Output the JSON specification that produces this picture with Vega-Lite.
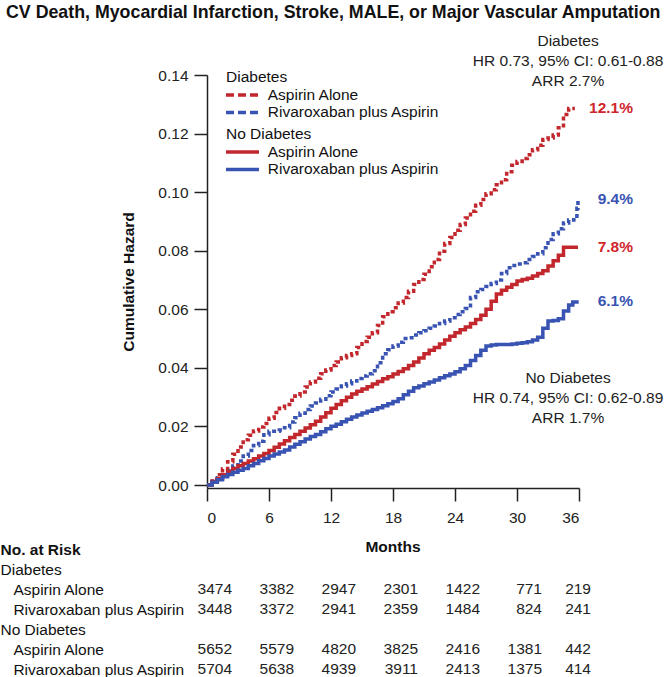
{
  "$schema": "https://vega.github.io/schema/vega-lite/v6.json",
  "padding": {"left": 0, "top": 4, "right": 0, "bottom": 0},
  "title": {"text": "CV Death, Myocardial Infarction, Stroke, MALE, or Major Vascular Amputation", "anchor": "start", "fontSize": 17.8, "fontWeight": "bold", "font": "Liberation Sans", "color": "#111", "dx": 6, "offset": 12},
  "config": {"view": {"stroke": null}, "font": "Liberation Sans", "text": {"font": "Liberation Sans"}},
  "spacing": 13,
  "datasets": {
    "curves": [
      {"group":"Diabetes","arm":"Aspirin Alone","month":0,"hazard":0},
      {"group":"Diabetes","arm":"Aspirin Alone","month":0.5,"hazard":0.002},
      {"group":"Diabetes","arm":"Aspirin Alone","month":1,"hazard":0.0035},
      {"group":"Diabetes","arm":"Aspirin Alone","month":1.5,"hazard":0.0055},
      {"group":"Diabetes","arm":"Aspirin Alone","month":2,"hazard":0.008},
      {"group":"Diabetes","arm":"Aspirin Alone","month":2.5,"hazard":0.0105},
      {"group":"Diabetes","arm":"Aspirin Alone","month":3,"hazard":0.013},
      {"group":"Diabetes","arm":"Aspirin Alone","month":3.5,"hazard":0.0155},
      {"group":"Diabetes","arm":"Aspirin Alone","month":4,"hazard":0.017},
      {"group":"Diabetes","arm":"Aspirin Alone","month":4.5,"hazard":0.0185},
      {"group":"Diabetes","arm":"Aspirin Alone","month":5,"hazard":0.0198},
      {"group":"Diabetes","arm":"Aspirin Alone","month":5.5,"hazard":0.021},
      {"group":"Diabetes","arm":"Aspirin Alone","month":6,"hazard":0.0228},
      {"group":"Diabetes","arm":"Aspirin Alone","month":6.5,"hazard":0.0248},
      {"group":"Diabetes","arm":"Aspirin Alone","month":7,"hazard":0.0262},
      {"group":"Diabetes","arm":"Aspirin Alone","month":7.5,"hazard":0.0275},
      {"group":"Diabetes","arm":"Aspirin Alone","month":8,"hazard":0.029},
      {"group":"Diabetes","arm":"Aspirin Alone","month":8.5,"hazard":0.0304},
      {"group":"Diabetes","arm":"Aspirin Alone","month":9,"hazard":0.0318},
      {"group":"Diabetes","arm":"Aspirin Alone","month":9.5,"hazard":0.0335},
      {"group":"Diabetes","arm":"Aspirin Alone","month":10,"hazard":0.0352},
      {"group":"Diabetes","arm":"Aspirin Alone","month":10.5,"hazard":0.0365},
      {"group":"Diabetes","arm":"Aspirin Alone","month":11,"hazard":0.038},
      {"group":"Diabetes","arm":"Aspirin Alone","month":11.5,"hazard":0.0393},
      {"group":"Diabetes","arm":"Aspirin Alone","month":12,"hazard":0.0408},
      {"group":"Diabetes","arm":"Aspirin Alone","month":12.5,"hazard":0.042},
      {"group":"Diabetes","arm":"Aspirin Alone","month":13,"hazard":0.0435},
      {"group":"Diabetes","arm":"Aspirin Alone","month":13.5,"hazard":0.0442},
      {"group":"Diabetes","arm":"Aspirin Alone","month":14,"hazard":0.0448},
      {"group":"Diabetes","arm":"Aspirin Alone","month":14.5,"hazard":0.047},
      {"group":"Diabetes","arm":"Aspirin Alone","month":15,"hazard":0.049},
      {"group":"Diabetes","arm":"Aspirin Alone","month":15.5,"hazard":0.0505},
      {"group":"Diabetes","arm":"Aspirin Alone","month":16,"hazard":0.052},
      {"group":"Diabetes","arm":"Aspirin Alone","month":16.5,"hazard":0.0545},
      {"group":"Diabetes","arm":"Aspirin Alone","month":17,"hazard":0.0575},
      {"group":"Diabetes","arm":"Aspirin Alone","month":17.5,"hazard":0.0592},
      {"group":"Diabetes","arm":"Aspirin Alone","month":18,"hazard":0.0605},
      {"group":"Diabetes","arm":"Aspirin Alone","month":18.5,"hazard":0.0622},
      {"group":"Diabetes","arm":"Aspirin Alone","month":19,"hazard":0.064},
      {"group":"Diabetes","arm":"Aspirin Alone","month":19.5,"hazard":0.0662},
      {"group":"Diabetes","arm":"Aspirin Alone","month":20,"hazard":0.0685},
      {"group":"Diabetes","arm":"Aspirin Alone","month":20.5,"hazard":0.0702},
      {"group":"Diabetes","arm":"Aspirin Alone","month":21,"hazard":0.072},
      {"group":"Diabetes","arm":"Aspirin Alone","month":21.5,"hazard":0.0745},
      {"group":"Diabetes","arm":"Aspirin Alone","month":22,"hazard":0.077},
      {"group":"Diabetes","arm":"Aspirin Alone","month":22.5,"hazard":0.0798},
      {"group":"Diabetes","arm":"Aspirin Alone","month":23,"hazard":0.0825},
      {"group":"Diabetes","arm":"Aspirin Alone","month":23.5,"hazard":0.0845},
      {"group":"Diabetes","arm":"Aspirin Alone","month":24,"hazard":0.087},
      {"group":"Diabetes","arm":"Aspirin Alone","month":24.5,"hazard":0.089},
      {"group":"Diabetes","arm":"Aspirin Alone","month":25,"hazard":0.0912},
      {"group":"Diabetes","arm":"Aspirin Alone","month":25.5,"hazard":0.0935},
      {"group":"Diabetes","arm":"Aspirin Alone","month":26,"hazard":0.0955},
      {"group":"Diabetes","arm":"Aspirin Alone","month":26.5,"hazard":0.0975},
      {"group":"Diabetes","arm":"Aspirin Alone","month":27,"hazard":0.0995},
      {"group":"Diabetes","arm":"Aspirin Alone","month":27.5,"hazard":0.1008},
      {"group":"Diabetes","arm":"Aspirin Alone","month":28,"hazard":0.1025},
      {"group":"Diabetes","arm":"Aspirin Alone","month":28.5,"hazard":0.1042},
      {"group":"Diabetes","arm":"Aspirin Alone","month":29,"hazard":0.107},
      {"group":"Diabetes","arm":"Aspirin Alone","month":29.5,"hazard":0.1092},
      {"group":"Diabetes","arm":"Aspirin Alone","month":30,"hazard":0.1105},
      {"group":"Diabetes","arm":"Aspirin Alone","month":30.5,"hazard":0.1115},
      {"group":"Diabetes","arm":"Aspirin Alone","month":31,"hazard":0.1128},
      {"group":"Diabetes","arm":"Aspirin Alone","month":31.5,"hazard":0.1145},
      {"group":"Diabetes","arm":"Aspirin Alone","month":32,"hazard":0.116},
      {"group":"Diabetes","arm":"Aspirin Alone","month":32.5,"hazard":0.118},
      {"group":"Diabetes","arm":"Aspirin Alone","month":33,"hazard":0.1185},
      {"group":"Diabetes","arm":"Aspirin Alone","month":33.5,"hazard":0.1195},
      {"group":"Diabetes","arm":"Aspirin Alone","month":34,"hazard":0.122},
      {"group":"Diabetes","arm":"Aspirin Alone","month":34.5,"hazard":0.1265},
      {"group":"Diabetes","arm":"Aspirin Alone","month":35,"hazard":0.1286},
      {"group":"Diabetes","arm":"Aspirin Alone","month":35.6,"hazard":0.1286},
      {"group":"Diabetes","arm":"Rivaroxaban plus Aspirin","month":0,"hazard":0},
      {"group":"Diabetes","arm":"Rivaroxaban plus Aspirin","month":0.5,"hazard":0.0012},
      {"group":"Diabetes","arm":"Rivaroxaban plus Aspirin","month":1,"hazard":0.0025},
      {"group":"Diabetes","arm":"Rivaroxaban plus Aspirin","month":1.5,"hazard":0.0035},
      {"group":"Diabetes","arm":"Rivaroxaban plus Aspirin","month":2,"hazard":0.0048},
      {"group":"Diabetes","arm":"Rivaroxaban plus Aspirin","month":2.5,"hazard":0.0065},
      {"group":"Diabetes","arm":"Rivaroxaban plus Aspirin","month":3,"hazard":0.0082},
      {"group":"Diabetes","arm":"Rivaroxaban plus Aspirin","month":3.5,"hazard":0.0099},
      {"group":"Diabetes","arm":"Rivaroxaban plus Aspirin","month":4,"hazard":0.0118},
      {"group":"Diabetes","arm":"Rivaroxaban plus Aspirin","month":4.5,"hazard":0.0135},
      {"group":"Diabetes","arm":"Rivaroxaban plus Aspirin","month":5,"hazard":0.015},
      {"group":"Diabetes","arm":"Rivaroxaban plus Aspirin","month":5.5,"hazard":0.0172},
      {"group":"Diabetes","arm":"Rivaroxaban plus Aspirin","month":6,"hazard":0.0184},
      {"group":"Diabetes","arm":"Rivaroxaban plus Aspirin","month":7,"hazard":0.0188},
      {"group":"Diabetes","arm":"Rivaroxaban plus Aspirin","month":7.5,"hazard":0.0196},
      {"group":"Diabetes","arm":"Rivaroxaban plus Aspirin","month":8,"hazard":0.0215},
      {"group":"Diabetes","arm":"Rivaroxaban plus Aspirin","month":8.5,"hazard":0.023},
      {"group":"Diabetes","arm":"Rivaroxaban plus Aspirin","month":9,"hazard":0.0245},
      {"group":"Diabetes","arm":"Rivaroxaban plus Aspirin","month":9.5,"hazard":0.0258},
      {"group":"Diabetes","arm":"Rivaroxaban plus Aspirin","month":10,"hazard":0.027},
      {"group":"Diabetes","arm":"Rivaroxaban plus Aspirin","month":10.5,"hazard":0.028},
      {"group":"Diabetes","arm":"Rivaroxaban plus Aspirin","month":11,"hazard":0.0293},
      {"group":"Diabetes","arm":"Rivaroxaban plus Aspirin","month":11.5,"hazard":0.0305},
      {"group":"Diabetes","arm":"Rivaroxaban plus Aspirin","month":12,"hazard":0.0318},
      {"group":"Diabetes","arm":"Rivaroxaban plus Aspirin","month":12.5,"hazard":0.0328},
      {"group":"Diabetes","arm":"Rivaroxaban plus Aspirin","month":13,"hazard":0.0338},
      {"group":"Diabetes","arm":"Rivaroxaban plus Aspirin","month":13.5,"hazard":0.0346},
      {"group":"Diabetes","arm":"Rivaroxaban plus Aspirin","month":14,"hazard":0.0355},
      {"group":"Diabetes","arm":"Rivaroxaban plus Aspirin","month":14.5,"hazard":0.0364},
      {"group":"Diabetes","arm":"Rivaroxaban plus Aspirin","month":15,"hazard":0.0372},
      {"group":"Diabetes","arm":"Rivaroxaban plus Aspirin","month":15.5,"hazard":0.038},
      {"group":"Diabetes","arm":"Rivaroxaban plus Aspirin","month":16,"hazard":0.039},
      {"group":"Diabetes","arm":"Rivaroxaban plus Aspirin","month":16.5,"hazard":0.0418},
      {"group":"Diabetes","arm":"Rivaroxaban plus Aspirin","month":17,"hazard":0.0448},
      {"group":"Diabetes","arm":"Rivaroxaban plus Aspirin","month":17.5,"hazard":0.0462},
      {"group":"Diabetes","arm":"Rivaroxaban plus Aspirin","month":18,"hazard":0.0475},
      {"group":"Diabetes","arm":"Rivaroxaban plus Aspirin","month":18.5,"hazard":0.0488},
      {"group":"Diabetes","arm":"Rivaroxaban plus Aspirin","month":19,"hazard":0.05},
      {"group":"Diabetes","arm":"Rivaroxaban plus Aspirin","month":19.5,"hazard":0.0503},
      {"group":"Diabetes","arm":"Rivaroxaban plus Aspirin","month":20,"hazard":0.0512},
      {"group":"Diabetes","arm":"Rivaroxaban plus Aspirin","month":20.5,"hazard":0.052},
      {"group":"Diabetes","arm":"Rivaroxaban plus Aspirin","month":21,"hazard":0.0527},
      {"group":"Diabetes","arm":"Rivaroxaban plus Aspirin","month":21.5,"hazard":0.0535},
      {"group":"Diabetes","arm":"Rivaroxaban plus Aspirin","month":22,"hazard":0.0543},
      {"group":"Diabetes","arm":"Rivaroxaban plus Aspirin","month":22.5,"hazard":0.0552},
      {"group":"Diabetes","arm":"Rivaroxaban plus Aspirin","month":23,"hazard":0.056},
      {"group":"Diabetes","arm":"Rivaroxaban plus Aspirin","month":23.5,"hazard":0.0571},
      {"group":"Diabetes","arm":"Rivaroxaban plus Aspirin","month":24,"hazard":0.0582},
      {"group":"Diabetes","arm":"Rivaroxaban plus Aspirin","month":24.5,"hazard":0.0592},
      {"group":"Diabetes","arm":"Rivaroxaban plus Aspirin","month":25,"hazard":0.0603},
      {"group":"Diabetes","arm":"Rivaroxaban plus Aspirin","month":25.5,"hazard":0.064},
      {"group":"Diabetes","arm":"Rivaroxaban plus Aspirin","month":26,"hazard":0.066},
      {"group":"Diabetes","arm":"Rivaroxaban plus Aspirin","month":26.5,"hazard":0.0668},
      {"group":"Diabetes","arm":"Rivaroxaban plus Aspirin","month":27,"hazard":0.0678},
      {"group":"Diabetes","arm":"Rivaroxaban plus Aspirin","month":27.5,"hazard":0.0688},
      {"group":"Diabetes","arm":"Rivaroxaban plus Aspirin","month":28,"hazard":0.07},
      {"group":"Diabetes","arm":"Rivaroxaban plus Aspirin","month":28.5,"hazard":0.0722},
      {"group":"Diabetes","arm":"Rivaroxaban plus Aspirin","month":29,"hazard":0.0742},
      {"group":"Diabetes","arm":"Rivaroxaban plus Aspirin","month":29.5,"hazard":0.075},
      {"group":"Diabetes","arm":"Rivaroxaban plus Aspirin","month":30,"hazard":0.0755},
      {"group":"Diabetes","arm":"Rivaroxaban plus Aspirin","month":30.5,"hazard":0.0759},
      {"group":"Diabetes","arm":"Rivaroxaban plus Aspirin","month":31,"hazard":0.077},
      {"group":"Diabetes","arm":"Rivaroxaban plus Aspirin","month":31.5,"hazard":0.078},
      {"group":"Diabetes","arm":"Rivaroxaban plus Aspirin","month":32,"hazard":0.079},
      {"group":"Diabetes","arm":"Rivaroxaban plus Aspirin","month":32.5,"hazard":0.081},
      {"group":"Diabetes","arm":"Rivaroxaban plus Aspirin","month":33,"hazard":0.0838},
      {"group":"Diabetes","arm":"Rivaroxaban plus Aspirin","month":33.5,"hazard":0.0858},
      {"group":"Diabetes","arm":"Rivaroxaban plus Aspirin","month":34,"hazard":0.0875},
      {"group":"Diabetes","arm":"Rivaroxaban plus Aspirin","month":34.5,"hazard":0.0895},
      {"group":"Diabetes","arm":"Rivaroxaban plus Aspirin","month":35,"hazard":0.0905},
      {"group":"Diabetes","arm":"Rivaroxaban plus Aspirin","month":35.5,"hazard":0.0918},
      {"group":"Diabetes","arm":"Rivaroxaban plus Aspirin","month":35.8,"hazard":0.0945},
      {"group":"Diabetes","arm":"Rivaroxaban plus Aspirin","month":35.9,"hazard":0.0976},
      {"group":"No Diabetes","arm":"Aspirin Alone","month":0,"hazard":0},
      {"group":"No Diabetes","arm":"Aspirin Alone","month":0.5,"hazard":0.0012},
      {"group":"No Diabetes","arm":"Aspirin Alone","month":1,"hazard":0.0022},
      {"group":"No Diabetes","arm":"Aspirin Alone","month":1.5,"hazard":0.0035},
      {"group":"No Diabetes","arm":"Aspirin Alone","month":2,"hazard":0.0046},
      {"group":"No Diabetes","arm":"Aspirin Alone","month":2.5,"hazard":0.0057},
      {"group":"No Diabetes","arm":"Aspirin Alone","month":3,"hazard":0.0066},
      {"group":"No Diabetes","arm":"Aspirin Alone","month":3.5,"hazard":0.0074},
      {"group":"No Diabetes","arm":"Aspirin Alone","month":4,"hazard":0.0082},
      {"group":"No Diabetes","arm":"Aspirin Alone","month":4.5,"hazard":0.009},
      {"group":"No Diabetes","arm":"Aspirin Alone","month":5,"hazard":0.0099},
      {"group":"No Diabetes","arm":"Aspirin Alone","month":5.5,"hazard":0.0108},
      {"group":"No Diabetes","arm":"Aspirin Alone","month":6,"hazard":0.0118},
      {"group":"No Diabetes","arm":"Aspirin Alone","month":6.5,"hazard":0.0129},
      {"group":"No Diabetes","arm":"Aspirin Alone","month":7,"hazard":0.014},
      {"group":"No Diabetes","arm":"Aspirin Alone","month":7.5,"hazard":0.0151},
      {"group":"No Diabetes","arm":"Aspirin Alone","month":8,"hazard":0.0162},
      {"group":"No Diabetes","arm":"Aspirin Alone","month":8.5,"hazard":0.0173},
      {"group":"No Diabetes","arm":"Aspirin Alone","month":9,"hazard":0.0184},
      {"group":"No Diabetes","arm":"Aspirin Alone","month":9.5,"hazard":0.0195},
      {"group":"No Diabetes","arm":"Aspirin Alone","month":10,"hazard":0.0206},
      {"group":"No Diabetes","arm":"Aspirin Alone","month":10.5,"hazard":0.0218},
      {"group":"No Diabetes","arm":"Aspirin Alone","month":11,"hazard":0.0232},
      {"group":"No Diabetes","arm":"Aspirin Alone","month":11.5,"hazard":0.0247},
      {"group":"No Diabetes","arm":"Aspirin Alone","month":12,"hazard":0.0262},
      {"group":"No Diabetes","arm":"Aspirin Alone","month":12.5,"hazard":0.0275},
      {"group":"No Diabetes","arm":"Aspirin Alone","month":13,"hazard":0.0288},
      {"group":"No Diabetes","arm":"Aspirin Alone","month":13.5,"hazard":0.03},
      {"group":"No Diabetes","arm":"Aspirin Alone","month":14,"hazard":0.0311},
      {"group":"No Diabetes","arm":"Aspirin Alone","month":14.5,"hazard":0.032},
      {"group":"No Diabetes","arm":"Aspirin Alone","month":15,"hazard":0.0328},
      {"group":"No Diabetes","arm":"Aspirin Alone","month":15.5,"hazard":0.0336},
      {"group":"No Diabetes","arm":"Aspirin Alone","month":16,"hazard":0.0345},
      {"group":"No Diabetes","arm":"Aspirin Alone","month":16.5,"hazard":0.0354},
      {"group":"No Diabetes","arm":"Aspirin Alone","month":17,"hazard":0.0363},
      {"group":"No Diabetes","arm":"Aspirin Alone","month":17.5,"hazard":0.037},
      {"group":"No Diabetes","arm":"Aspirin Alone","month":18,"hazard":0.0379},
      {"group":"No Diabetes","arm":"Aspirin Alone","month":18.5,"hazard":0.0388},
      {"group":"No Diabetes","arm":"Aspirin Alone","month":19,"hazard":0.0397},
      {"group":"No Diabetes","arm":"Aspirin Alone","month":19.5,"hazard":0.0408},
      {"group":"No Diabetes","arm":"Aspirin Alone","month":20,"hazard":0.042},
      {"group":"No Diabetes","arm":"Aspirin Alone","month":20.5,"hazard":0.0434},
      {"group":"No Diabetes","arm":"Aspirin Alone","month":21,"hazard":0.0448},
      {"group":"No Diabetes","arm":"Aspirin Alone","month":21.5,"hazard":0.046},
      {"group":"No Diabetes","arm":"Aspirin Alone","month":22,"hazard":0.047},
      {"group":"No Diabetes","arm":"Aspirin Alone","month":22.5,"hazard":0.0482},
      {"group":"No Diabetes","arm":"Aspirin Alone","month":23,"hazard":0.0495},
      {"group":"No Diabetes","arm":"Aspirin Alone","month":23.5,"hazard":0.0508},
      {"group":"No Diabetes","arm":"Aspirin Alone","month":24,"hazard":0.052},
      {"group":"No Diabetes","arm":"Aspirin Alone","month":24.5,"hazard":0.053},
      {"group":"No Diabetes","arm":"Aspirin Alone","month":25,"hazard":0.054},
      {"group":"No Diabetes","arm":"Aspirin Alone","month":25.5,"hazard":0.0552},
      {"group":"No Diabetes","arm":"Aspirin Alone","month":26,"hazard":0.0565},
      {"group":"No Diabetes","arm":"Aspirin Alone","month":26.5,"hazard":0.058},
      {"group":"No Diabetes","arm":"Aspirin Alone","month":27,"hazard":0.06},
      {"group":"No Diabetes","arm":"Aspirin Alone","month":27.5,"hazard":0.0628},
      {"group":"No Diabetes","arm":"Aspirin Alone","month":28,"hazard":0.0652},
      {"group":"No Diabetes","arm":"Aspirin Alone","month":28.5,"hazard":0.0665},
      {"group":"No Diabetes","arm":"Aspirin Alone","month":29,"hazard":0.0675},
      {"group":"No Diabetes","arm":"Aspirin Alone","month":29.5,"hazard":0.0685},
      {"group":"No Diabetes","arm":"Aspirin Alone","month":30,"hazard":0.0697},
      {"group":"No Diabetes","arm":"Aspirin Alone","month":30.5,"hazard":0.0702},
      {"group":"No Diabetes","arm":"Aspirin Alone","month":31,"hazard":0.0706},
      {"group":"No Diabetes","arm":"Aspirin Alone","month":31.5,"hazard":0.0714},
      {"group":"No Diabetes","arm":"Aspirin Alone","month":32,"hazard":0.0722},
      {"group":"No Diabetes","arm":"Aspirin Alone","month":32.5,"hazard":0.0732},
      {"group":"No Diabetes","arm":"Aspirin Alone","month":33,"hazard":0.0748},
      {"group":"No Diabetes","arm":"Aspirin Alone","month":33.5,"hazard":0.0766},
      {"group":"No Diabetes","arm":"Aspirin Alone","month":34,"hazard":0.0785},
      {"group":"No Diabetes","arm":"Aspirin Alone","month":34.5,"hazard":0.0812},
      {"group":"No Diabetes","arm":"Aspirin Alone","month":35.9,"hazard":0.0812},
      {"group":"No Diabetes","arm":"Rivaroxaban plus Aspirin","month":0,"hazard":0},
      {"group":"No Diabetes","arm":"Rivaroxaban plus Aspirin","month":0.5,"hazard":0.001},
      {"group":"No Diabetes","arm":"Rivaroxaban plus Aspirin","month":1,"hazard":0.0018},
      {"group":"No Diabetes","arm":"Rivaroxaban plus Aspirin","month":1.5,"hazard":0.0028},
      {"group":"No Diabetes","arm":"Rivaroxaban plus Aspirin","month":2,"hazard":0.0036},
      {"group":"No Diabetes","arm":"Rivaroxaban plus Aspirin","month":2.5,"hazard":0.0044},
      {"group":"No Diabetes","arm":"Rivaroxaban plus Aspirin","month":3,"hazard":0.0051},
      {"group":"No Diabetes","arm":"Rivaroxaban plus Aspirin","month":3.5,"hazard":0.0057},
      {"group":"No Diabetes","arm":"Rivaroxaban plus Aspirin","month":4,"hazard":0.0066},
      {"group":"No Diabetes","arm":"Rivaroxaban plus Aspirin","month":4.5,"hazard":0.0074},
      {"group":"No Diabetes","arm":"Rivaroxaban plus Aspirin","month":5,"hazard":0.0083},
      {"group":"No Diabetes","arm":"Rivaroxaban plus Aspirin","month":5.5,"hazard":0.0091},
      {"group":"No Diabetes","arm":"Rivaroxaban plus Aspirin","month":6,"hazard":0.0099},
      {"group":"No Diabetes","arm":"Rivaroxaban plus Aspirin","month":6.5,"hazard":0.0106},
      {"group":"No Diabetes","arm":"Rivaroxaban plus Aspirin","month":7,"hazard":0.0113},
      {"group":"No Diabetes","arm":"Rivaroxaban plus Aspirin","month":7.5,"hazard":0.012},
      {"group":"No Diabetes","arm":"Rivaroxaban plus Aspirin","month":8,"hazard":0.013},
      {"group":"No Diabetes","arm":"Rivaroxaban plus Aspirin","month":8.5,"hazard":0.0139},
      {"group":"No Diabetes","arm":"Rivaroxaban plus Aspirin","month":9,"hazard":0.0148},
      {"group":"No Diabetes","arm":"Rivaroxaban plus Aspirin","month":9.5,"hazard":0.0157},
      {"group":"No Diabetes","arm":"Rivaroxaban plus Aspirin","month":10,"hazard":0.0166},
      {"group":"No Diabetes","arm":"Rivaroxaban plus Aspirin","month":10.5,"hazard":0.0173},
      {"group":"No Diabetes","arm":"Rivaroxaban plus Aspirin","month":11,"hazard":0.0182},
      {"group":"No Diabetes","arm":"Rivaroxaban plus Aspirin","month":11.5,"hazard":0.0192},
      {"group":"No Diabetes","arm":"Rivaroxaban plus Aspirin","month":12,"hazard":0.0201},
      {"group":"No Diabetes","arm":"Rivaroxaban plus Aspirin","month":12.5,"hazard":0.0208},
      {"group":"No Diabetes","arm":"Rivaroxaban plus Aspirin","month":13,"hazard":0.0216},
      {"group":"No Diabetes","arm":"Rivaroxaban plus Aspirin","month":13.5,"hazard":0.0225},
      {"group":"No Diabetes","arm":"Rivaroxaban plus Aspirin","month":14,"hazard":0.0232},
      {"group":"No Diabetes","arm":"Rivaroxaban plus Aspirin","month":14.5,"hazard":0.0239},
      {"group":"No Diabetes","arm":"Rivaroxaban plus Aspirin","month":15,"hazard":0.0246},
      {"group":"No Diabetes","arm":"Rivaroxaban plus Aspirin","month":15.5,"hazard":0.0252},
      {"group":"No Diabetes","arm":"Rivaroxaban plus Aspirin","month":16,"hazard":0.0258},
      {"group":"No Diabetes","arm":"Rivaroxaban plus Aspirin","month":16.5,"hazard":0.0264},
      {"group":"No Diabetes","arm":"Rivaroxaban plus Aspirin","month":17,"hazard":0.0271},
      {"group":"No Diabetes","arm":"Rivaroxaban plus Aspirin","month":17.5,"hazard":0.0278},
      {"group":"No Diabetes","arm":"Rivaroxaban plus Aspirin","month":18,"hazard":0.0285},
      {"group":"No Diabetes","arm":"Rivaroxaban plus Aspirin","month":18.5,"hazard":0.0295},
      {"group":"No Diabetes","arm":"Rivaroxaban plus Aspirin","month":19,"hazard":0.0308},
      {"group":"No Diabetes","arm":"Rivaroxaban plus Aspirin","month":19.5,"hazard":0.032},
      {"group":"No Diabetes","arm":"Rivaroxaban plus Aspirin","month":20,"hazard":0.0332},
      {"group":"No Diabetes","arm":"Rivaroxaban plus Aspirin","month":20.5,"hazard":0.0338},
      {"group":"No Diabetes","arm":"Rivaroxaban plus Aspirin","month":21,"hazard":0.0346},
      {"group":"No Diabetes","arm":"Rivaroxaban plus Aspirin","month":21.5,"hazard":0.0352},
      {"group":"No Diabetes","arm":"Rivaroxaban plus Aspirin","month":22,"hazard":0.0359},
      {"group":"No Diabetes","arm":"Rivaroxaban plus Aspirin","month":22.5,"hazard":0.0366},
      {"group":"No Diabetes","arm":"Rivaroxaban plus Aspirin","month":23,"hazard":0.0373},
      {"group":"No Diabetes","arm":"Rivaroxaban plus Aspirin","month":23.5,"hazard":0.0379},
      {"group":"No Diabetes","arm":"Rivaroxaban plus Aspirin","month":24,"hazard":0.0387},
      {"group":"No Diabetes","arm":"Rivaroxaban plus Aspirin","month":24.5,"hazard":0.0397},
      {"group":"No Diabetes","arm":"Rivaroxaban plus Aspirin","month":25,"hazard":0.0408},
      {"group":"No Diabetes","arm":"Rivaroxaban plus Aspirin","month":25.5,"hazard":0.0425},
      {"group":"No Diabetes","arm":"Rivaroxaban plus Aspirin","month":26,"hazard":0.0442},
      {"group":"No Diabetes","arm":"Rivaroxaban plus Aspirin","month":26.5,"hazard":0.046},
      {"group":"No Diabetes","arm":"Rivaroxaban plus Aspirin","month":27,"hazard":0.0475},
      {"group":"No Diabetes","arm":"Rivaroxaban plus Aspirin","month":27.5,"hazard":0.0478},
      {"group":"No Diabetes","arm":"Rivaroxaban plus Aspirin","month":28,"hazard":0.048},
      {"group":"No Diabetes","arm":"Rivaroxaban plus Aspirin","month":29.5,"hazard":0.0482},
      {"group":"No Diabetes","arm":"Rivaroxaban plus Aspirin","month":30,"hazard":0.0484},
      {"group":"No Diabetes","arm":"Rivaroxaban plus Aspirin","month":30.5,"hazard":0.0486},
      {"group":"No Diabetes","arm":"Rivaroxaban plus Aspirin","month":31,"hazard":0.0489},
      {"group":"No Diabetes","arm":"Rivaroxaban plus Aspirin","month":31.5,"hazard":0.0495},
      {"group":"No Diabetes","arm":"Rivaroxaban plus Aspirin","month":32,"hazard":0.0505},
      {"group":"No Diabetes","arm":"Rivaroxaban plus Aspirin","month":32.5,"hazard":0.0535},
      {"group":"No Diabetes","arm":"Rivaroxaban plus Aspirin","month":33,"hazard":0.056},
      {"group":"No Diabetes","arm":"Rivaroxaban plus Aspirin","month":33.5,"hazard":0.0562},
      {"group":"No Diabetes","arm":"Rivaroxaban plus Aspirin","month":34,"hazard":0.0568},
      {"group":"No Diabetes","arm":"Rivaroxaban plus Aspirin","month":34.5,"hazard":0.0594},
      {"group":"No Diabetes","arm":"Rivaroxaban plus Aspirin","month":35,"hazard":0.0615},
      {"group":"No Diabetes","arm":"Rivaroxaban plus Aspirin","month":35.4,"hazard":0.0625},
      {"group":"No Diabetes","arm":"Rivaroxaban plus Aspirin","month":35.8,"hazard":0.0631}
    ],
    "ends": [
      {"arm":"Aspirin Alone","month":36,"hazard":0.1287,"label":"12.1%"},
      {"arm":"Rivaroxaban plus Aspirin","month":36,"hazard":0.0976,"label":"9.4%"},
      {"arm":"Aspirin Alone","month":36,"hazard":0.0813,"label":"7.8%"},
      {"arm":"Rivaroxaban plus Aspirin","month":36,"hazard":0.0628,"label":"6.1%"}
    ],
    "notes": [
      {"month":34.94,"hazard":0.1516,"label":"Diabetes\nHR 0.73, 95% CI: 0.61-0.88\nARR 2.7%"},
      {"month":34.94,"hazard":0.0365,"label":"No Diabetes\nHR 0.74, 95% CI: 0.62-0.89\nARR 1.7%"}
    ],
    "risk": [
      {"row":"Diabetes: Aspirin Alone","month":0,"n":3474},
      {"row":"Diabetes: Aspirin Alone","month":6,"n":3382},
      {"row":"Diabetes: Aspirin Alone","month":12,"n":2947},
      {"row":"Diabetes: Aspirin Alone","month":18,"n":2301},
      {"row":"Diabetes: Aspirin Alone","month":24,"n":1422},
      {"row":"Diabetes: Aspirin Alone","month":30,"n":771},
      {"row":"Diabetes: Aspirin Alone","month":36,"n":219},
      {"row":"Diabetes: Rivaroxaban plus Aspirin","month":0,"n":3448},
      {"row":"Diabetes: Rivaroxaban plus Aspirin","month":6,"n":3372},
      {"row":"Diabetes: Rivaroxaban plus Aspirin","month":12,"n":2941},
      {"row":"Diabetes: Rivaroxaban plus Aspirin","month":18,"n":2359},
      {"row":"Diabetes: Rivaroxaban plus Aspirin","month":24,"n":1484},
      {"row":"Diabetes: Rivaroxaban plus Aspirin","month":30,"n":824},
      {"row":"Diabetes: Rivaroxaban plus Aspirin","month":36,"n":241},
      {"row":"No Diabetes: Aspirin Alone","month":0,"n":5652},
      {"row":"No Diabetes: Aspirin Alone","month":6,"n":5579},
      {"row":"No Diabetes: Aspirin Alone","month":12,"n":4820},
      {"row":"No Diabetes: Aspirin Alone","month":18,"n":3825},
      {"row":"No Diabetes: Aspirin Alone","month":24,"n":2416},
      {"row":"No Diabetes: Aspirin Alone","month":30,"n":1381},
      {"row":"No Diabetes: Aspirin Alone","month":36,"n":442},
      {"row":"No Diabetes: Rivaroxaban plus Aspirin","month":0,"n":5704},
      {"row":"No Diabetes: Rivaroxaban plus Aspirin","month":6,"n":5638},
      {"row":"No Diabetes: Rivaroxaban plus Aspirin","month":12,"n":4939},
      {"row":"No Diabetes: Rivaroxaban plus Aspirin","month":18,"n":3911},
      {"row":"No Diabetes: Rivaroxaban plus Aspirin","month":24,"n":2413},
      {"row":"No Diabetes: Rivaroxaban plus Aspirin","month":30,"n":1375},
      {"row":"No Diabetes: Rivaroxaban plus Aspirin","month":36,"n":414}
    ],
    "header": [
      {"row":"No. at Risk","month":18,"label":"Months"}
    ]
  },
  "vconcat": [
    {
      "width": 372,
      "height": 413,
      "layer": [
        {
          "data": {"name": "curves"},
          "transform": [{"filter": "datum.group == 'Diabetes'"}],
          "mark": {"type": "line", "interpolate": "step-after", "strokeWidth": 3.5, "strokeDash": [4, 3], "clip": false},
          "encoding": {
            "x": {"field": "month", "type": "quantitative", "scale": {"domain": [0, 36], "nice": false},
                  "axis": {"values": [0, 6, 12, 18, 24, 30, 36], "title": null, "grid": false, "tickSize": 13, "labelPadding": 9, "labelFontSize": 15.5, "labelColor": "#222", "domainColor": "#222", "tickColor": "#222", "domainWidth": 1.5, "tickWidth": 1.5, "labelFont": "Liberation Sans"}},
            "y": {"field": "hazard", "type": "quantitative", "scale": {"domain": [-0.001, 0.14], "nice": false, "zero": false},
                  "axis": {"values": [0, 0.02, 0.04, 0.06, 0.08, 0.1, 0.12, 0.14], "format": ".2f", "title": "Cumulative Hazard", "titleFontSize": 15.5, "titleFontWeight": "bold", "titleColor": "#111", "titlePadding": 21, "titleFont": "Liberation Sans", "grid": false, "tickSize": 13, "labelPadding": 6, "labelFontSize": 15.5, "labelColor": "#222", "domainColor": "#222", "tickColor": "#222", "domainWidth": 1.5, "tickWidth": 1.5, "labelFont": "Liberation Sans"}},
            "color": {"field": "arm", "type": "nominal",
                      "scale": {"domain": ["Aspirin Alone", "Rivaroxaban plus Aspirin"], "range": ["#C1272D", "#3853B2"]},
                      "legend": {"title": "Diabetes", "orient": "none", "legendX": 19, "legendY": -5, "padding": 0, "titleFontWeight": "normal", "titleFontSize": 15.5, "titleColor": "#111", "titleFont": "Liberation Sans", "titlePadding": 1.7, "labelFontSize": 15.5, "labelColor": "#111", "labelFont": "Liberation Sans", "labelLimit": 300, "symbolType": "M-3.67,0H3.67", "symbolSize": 81, "symbolStrokeWidth": 3.5, "symbolDash": [8, 4], "symbolOffset": 8.75, "labelOffset": 17.5, "rowPadding": 0.5}}
          }
        },
        {
          "data": {"name": "curves"},
          "transform": [{"filter": "datum.group == 'No Diabetes'"}],
          "mark": {"type": "line", "interpolate": "step-after", "strokeWidth": 3.5, "clip": false},
          "encoding": {
            "x": {"field": "month", "type": "quantitative"},
            "y": {"field": "hazard", "type": "quantitative"},
            "color": {"field": "arm", "type": "nominal",
                      "scale": {"domain": ["Aspirin Alone", "Rivaroxaban plus Aspirin"], "range": ["#C1272D", "#3853B2"]},
                      "legend": {"title": "No Diabetes", "orient": "none", "legendX": 19, "legendY": 52, "padding": 0, "titleFontWeight": "normal", "titleFontSize": 15.5, "titleColor": "#111", "titleFont": "Liberation Sans", "titlePadding": 1.7, "labelFontSize": 15.5, "labelColor": "#111", "labelFont": "Liberation Sans", "labelLimit": 300, "symbolType": "M-3.67,0H3.67", "symbolSize": 81, "symbolStrokeWidth": 3.5, "symbolOffset": 8.75, "labelOffset": 17.5, "rowPadding": 0.5}}
          }
        },
        {
          "data": {"name": "ends"},
          "mark": {"type": "text", "align": "right", "baseline": "middle", "dx": 54, "fontSize": 15.5, "fontWeight": "bold", "font": "Liberation Sans", "clip": false},
          "encoding": {
            "x": {"field": "month", "type": "quantitative"},
            "y": {"field": "hazard", "type": "quantitative"},
            "text": {"field": "label", "type": "nominal"},
            "color": {"condition": {"test": "datum.arm == 'Aspirin Alone'", "value": "#D0262C"}, "value": "#3853B2"}
          }
        },
        {
          "data": {"name": "notes"},
          "mark": {"type": "text", "align": "center", "baseline": "middle", "fontSize": 15.5, "lineBreak": "\n", "lineHeight": 20, "color": "#222", "font": "Liberation Sans", "clip": false},
          "encoding": {
            "x": {"field": "month", "type": "quantitative"},
            "y": {"field": "hazard", "type": "quantitative"},
            "text": {"field": "label", "type": "nominal"}
          }
        }
      ],
      "resolve": {"scale": {"color": "independent"}}
    },
    {
      "width": 372,
      "height": 140,
      "layer": [
        {
          "data": {"name": "risk"},
          "mark": {"type": "text", "align": "right", "baseline": "middle", "fontSize": 15.5, "color": "#222", "font": "Liberation Sans", "dx": {"expr": "datum.month == 36 ? 12 : 25"}},
          "encoding": {
            "x": {"field": "month", "type": "quantitative", "scale": {"domain": [0, 36], "nice": false}, "axis": null},
            "y": {"field": "row", "type": "nominal",
                  "scale": {"domain": ["No. at Risk", "Diabetes", "Diabetes: Aspirin Alone", "Diabetes: Rivaroxaban plus Aspirin", "No Diabetes", "No Diabetes: Aspirin Alone", "No Diabetes: Rivaroxaban plus Aspirin"], "paddingInner": 0, "paddingOuter": 0},
                  "axis": {"title": null, "domain": false, "ticks": false, "tickSize": 0, "labelAlign": "left", "labelBaseline": "middle", "labelPadding": 207, "labelFontSize": 15.5, "labelColor": "#111", "labelFont": "Liberation Sans", "labelLimit": 300,
                           "labelFontWeight": {"condition": {"test": "datum.value == 'No. at Risk'", "value": "bold"}, "value": "normal"},
                           "labelExpr": "indexof(datum.value, ': ') >= 0 ? '\u200b\u00a0\u00a0\u00a0' + split(datum.value, ': ')[1] : datum.value"}},
            "text": {"field": "n", "type": "nominal"}
          }
        },
        {
          "data": {"name": "header"},
          "mark": {"type": "text", "align": "center", "baseline": "middle", "fontSize": 15.5, "fontWeight": "bold", "color": "#111", "font": "Liberation Sans", "dy": -2},
          "encoding": {
            "x": {"field": "month", "type": "quantitative"},
            "y": {"field": "row", "type": "nominal"},
            "text": {"field": "label", "type": "nominal"}
          }
        }
      ]
    }
  ]
}
